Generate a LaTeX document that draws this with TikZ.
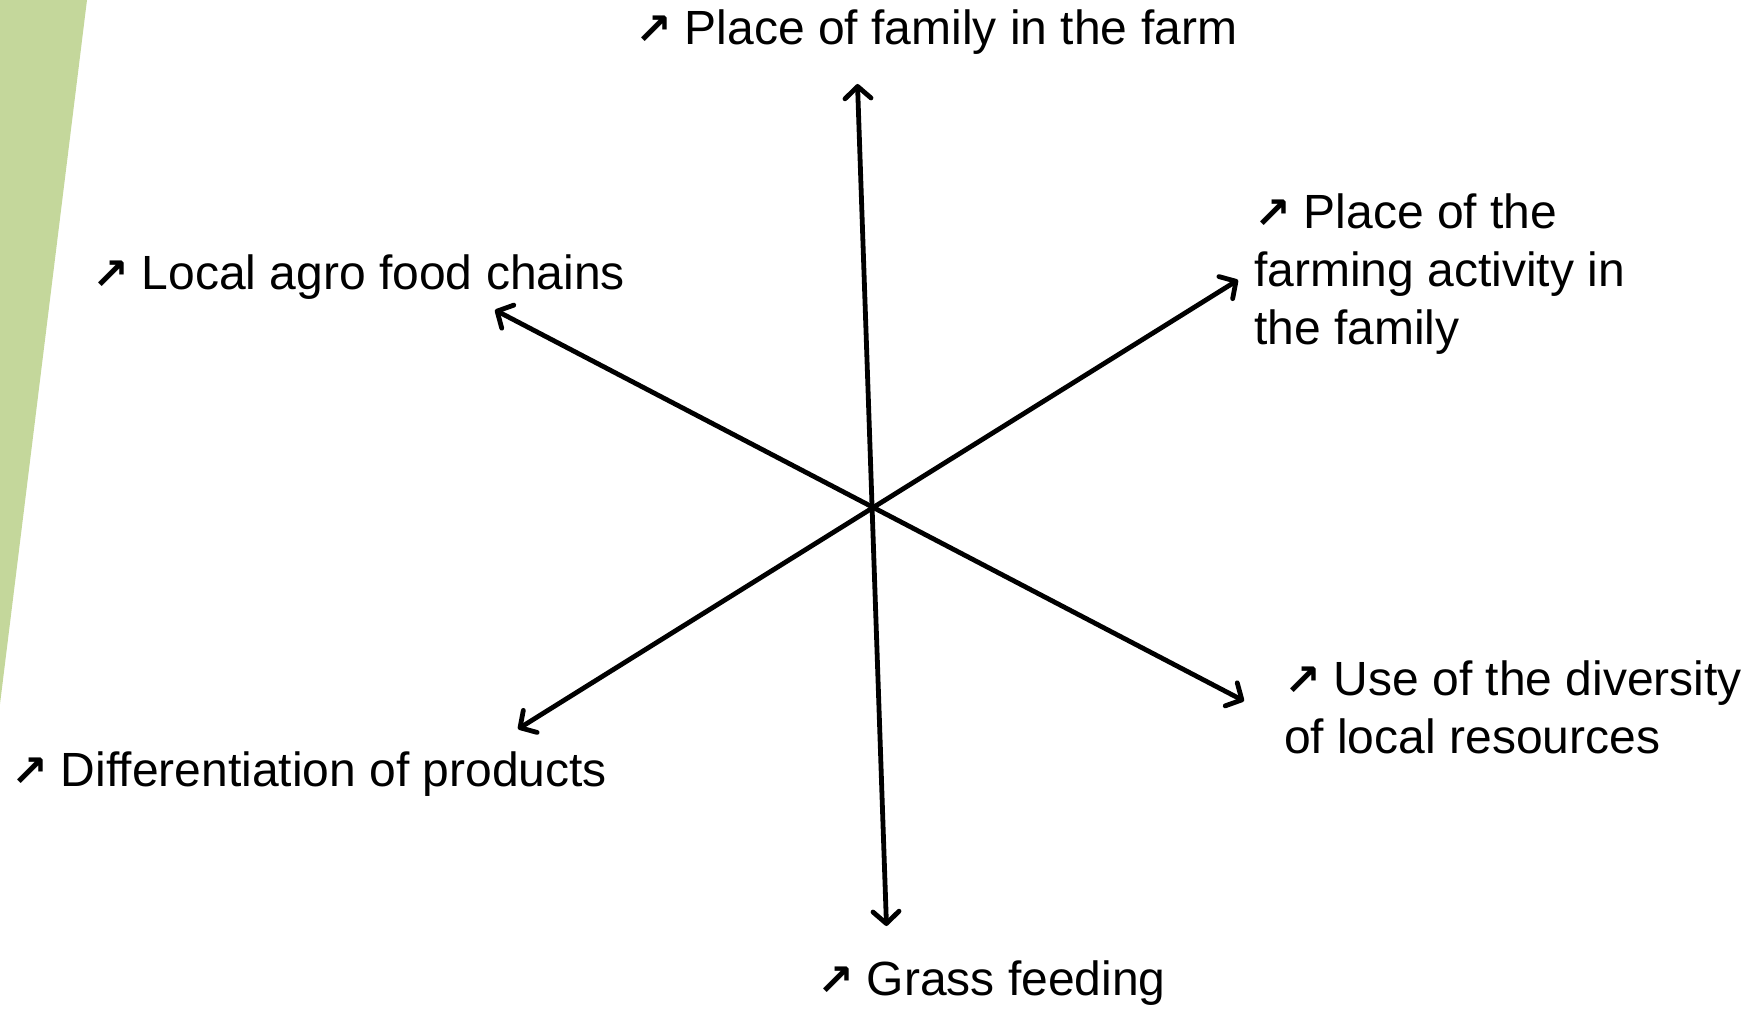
\documentclass[tikz,border=0pt]{standalone}
\usepackage{fontspec}
\setmainfont{Liberation Sans}
\newfontfamily\arrowfont{DejaVu Sans}
\usetikzlibrary{arrows.meta}
\definecolor{leafgreen}{RGB}{196,215,155}
\newcommand{\upar}{{\arrowfont\bfseries\fontsize{22}{29}\selectfont ↗}\hspace{6.5pt}}
\begin{document}
\begin{tikzpicture}[x=0.5pt,y=-0.5pt,
  lbl/.style={anchor=base west,inner sep=0pt,outer sep=0pt,align=left,
    font=\fontsize{24}{29}\selectfont},
  axis/.style={line width=2.4pt,{Straight Barb[length=6pt,width=13pt,line cap=round,line join=round]}-{Straight Barb[length=6pt,width=13pt,line cap=round,line join=round]}}]
\useasboundingbox (0,0) rectangle (1753,1011);
\fill[leafgreen] (0,0) -- (87,0) -- (0,704) -- cycle;
% axis ends
\coordinate (vtop) at (857.5,84);
\coordinate (vbot) at (886.5,926);
\coordinate (ltop) at (495,310);
\coordinate (lbot) at (1244,701);
\coordinate (rtop) at (1238,280);
\coordinate (rbot) at (518,729);
\draw[axis] (vtop) -- (vbot);
\draw[axis] (ltop) -- (lbot);
\draw[axis] (rtop) -- (rbot);
% labels
\node[lbl] (family) at (635,45) {\upar Place of family in the farm};
\node[lbl] (agro) at (92,289) {\upar Local agro food chains};
\node[lbl] (activity) at (1254,344) {\upar Place of the\\farming activity in\\the family};
\node[lbl] (diversity) at (1284,753) {\upar Use of the diversity\\of local resources};
\node[lbl] (differ) at (11,786) {\upar Differentiation of products};
\node[lbl] (grass) at (817,995) {\upar Grass feeding};
\end{tikzpicture}
\end{document}
